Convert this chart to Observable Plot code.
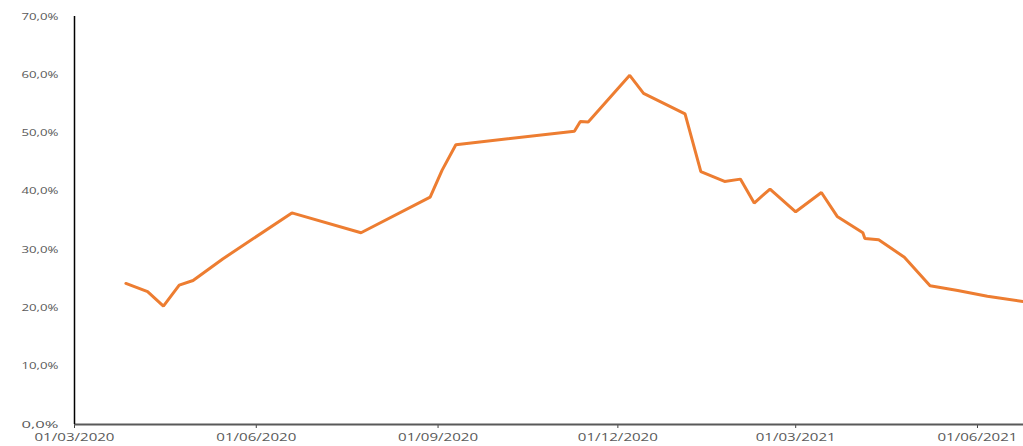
<!DOCTYPE html>
<html>
<head>
<meta charset="utf-8">
<script src="https://cdn.jsdelivr.net/npm/d3@7"></script>
<script src="https://cdn.jsdelivr.net/npm/@observablehq/plot@0.6"></script>
<style>
  html, body { margin: 0; padding: 0; background: #fff; }
  #chart svg { display: block; }
</style>
</head>
<body>
<div id="chart"></div>
<script>
const dates = [
  "2020-03-27","2020-04-07","2020-04-15","2020-04-23","2020-04-30","2020-05-15",
  "2020-06-19","2020-07-24","2020-08-28","2020-09-03","2020-09-10","2020-11-09",
  "2020-11-12","2020-11-16","2020-12-07","2020-12-14","2021-01-04","2021-01-12",
  "2021-01-24","2021-02-01","2021-02-08","2021-02-16","2021-03-01","2021-03-14",
  "2021-03-22","2021-04-04","2021-04-05","2021-04-12","2021-04-25","2021-05-08",
  "2021-05-22","2021-06-06","2021-06-24"
];
const values = [
  24.2, 22.8, 20.3, 23.9, 24.7, 28.4,
  36.3, 32.9, 39.0, 43.6, 48.0, 50.3,
  52.0, 51.9, 59.9, 56.8, 53.3, 43.4,
  41.7, 42.1, 38.0, 40.4, 36.5, 39.8,
  35.7, 32.9, 31.9, 31.7, 28.7, 23.8,
  23.0, 22.0, 21.1
];
const xTickLabels = ["2020-03-01","2020-06-01","2020-09-01","2020-12-01","2021-03-01","2021-06-01"];
const yTickValues = [0, 10, 20, 30, 40, 50, 60, 70];

const parse = d3.utcParse("%Y-%m-%d");
const data = dates.map((d, i) => ({date: parse(d), value: values[i]}));
const xTicks = xTickLabels.map(parse);
const fmtDate = d3.utcFormat("%d/%m/%Y");
const fmtPct = v => v.toFixed(1).replace(".", ",") + "%";

const start = parse("2020-03-01");
const end = new Date(Date.UTC(2021, 5, 24, 7));

const chart = Plot.plot({
  width: 1023,
  height: 446,
  marginLeft: 74,
  marginRight: 0,
  marginTop: 16,
  marginBottom: 22,
  style: {fontFamily: "'Open Sans', sans-serif", background: "#fff"},
  x: {type: "utc", domain: [start, end]},
  y: {domain: [0, 70]},
  marks: [
    Plot.axisY({
      ticks: yTickValues, tickFormat: fmtPct, tickSize: 0, tickPadding: 16,
      fontSize: 9.5, color: "#595959", label: null, className: "yax"
    }),
    Plot.axisX({
      ticks: xTicks, tickFormat: fmtDate, tickSize: 4, tickPadding: 4,
      fontSize: 11.5, color: "#595959", label: null, className: "xax"
    }),
    Plot.ruleY([0], {stroke: "#595959", strokeWidth: 2}),
    Plot.ruleX([start], {y1: 0, y2: 70, stroke: "#000", strokeWidth: 1.5}),
    Plot.line(data, {x: "date", y: "value", stroke: "#ED7D31", strokeWidth: 3, strokeLinejoin: "miter"})
  ]
});

d3.select(chart).selectAll(".xax text").attr("textLength", 80).attr("lengthAdjust", "spacingAndGlyphs");
d3.select(chart).selectAll(".yax text").attr("textLength", 37).attr("lengthAdjust", "spacingAndGlyphs");
d3.select(chart).selectAll(".xax line, .xax path").attr("stroke", "#404040");

document.getElementById("chart").appendChild(chart);
</script>
</body>
</html>
